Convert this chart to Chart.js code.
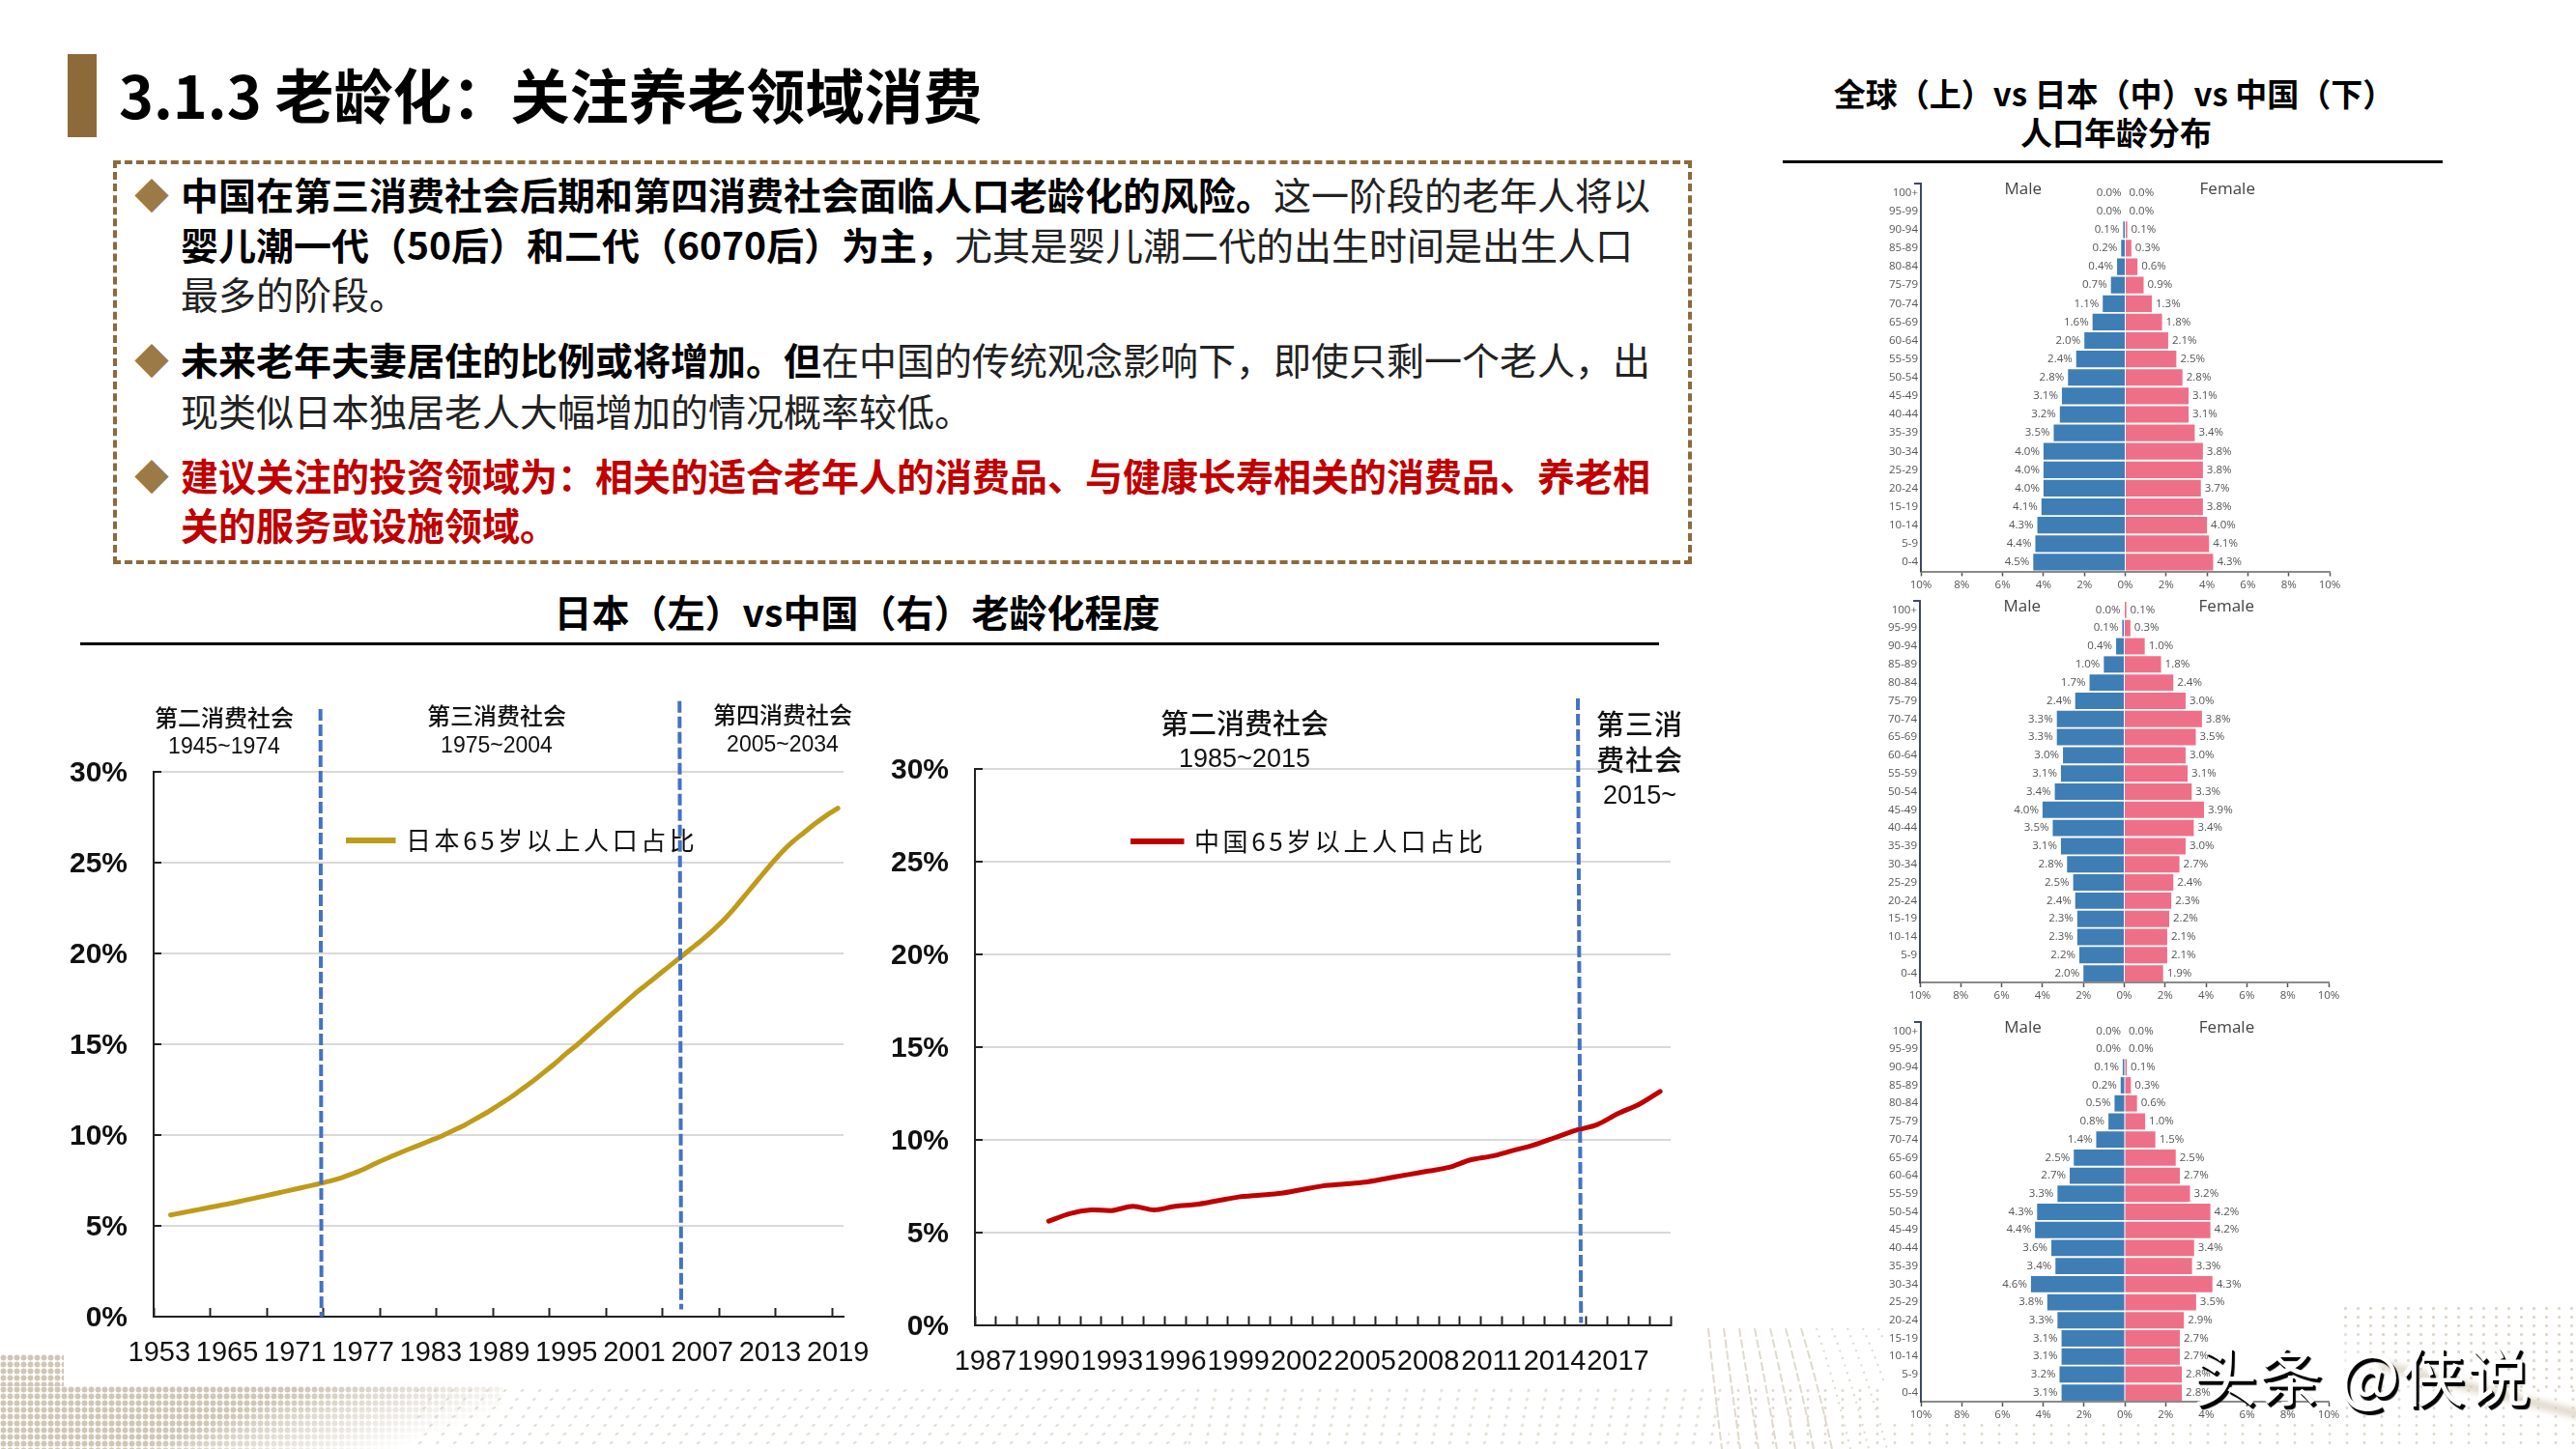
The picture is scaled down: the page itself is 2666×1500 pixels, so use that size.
<!DOCTYPE html>
<html lang="zh-CN">
<head>
<meta charset="utf-8">
<script src="https://cdn.jsdelivr.net/npm/chart.js@4/dist/chart.umd.min.js"></script>
<style>
html,body{margin:0;padding:0;background:#fff;}
#page{position:relative;width:2666px;height:1500px;overflow:hidden;background:#fff;font-family:"Noto Sans CJK SC","Noto Sans",sans-serif;color:#111;}
.abs{position:absolute;white-space:nowrap;}
canvas{position:absolute;}
.ln{position:absolute;left:187px;white-space:nowrap;font-size:39px;line-height:52px;height:52px;color:#222;}
.ln b{font-weight:700;color:#000;}
.red{color:#c00000;font-weight:700;}
.bul{position:absolute;left:139px;font-size:36px;line-height:40px;height:40px;color:#9c7a45;}
.ann{position:absolute;transform:translate(-50%,-50%);white-space:nowrap;color:#111;font-weight:500;}
.ann.num{font-family:"Liberation Sans",Arial,sans-serif;font-weight:400;}
.clip{position:absolute;overflow:hidden;}
.tile{position:absolute;background-image:radial-gradient(circle,#e2dccf 1.3px,transparent 1.8px);background-size:18px 9px;}
#blob{position:absolute;left:0;top:1435px;width:520px;height:65px;background-image:radial-gradient(circle,#cfc6b5 2.7px,transparent 3.3px);background-size:7px 7px;-webkit-mask-image:linear-gradient(160deg,#000 45%,transparent 85%);}
#blob2{position:absolute;left:0;top:1402px;width:66px;height:33px;background-image:radial-gradient(circle,#cfc6b5 2.7px,transparent 3.3px);background-size:7px 7px;}
#dots2{position:absolute;left:2330px;top:1350px;width:336px;height:90px;background-image:radial-gradient(circle,#dfd8cb 1.3px,transparent 1.8px);background-size:13px 9px;-webkit-mask-image:linear-gradient(215deg,#000 55%,transparent 80%);}
#wave{position:absolute;left:2460px;top:1436px;width:230px;height:9px;background:#d8cfc0;filter:blur(3px);transform:rotate(14deg);opacity:.8;}
#pwhite{position:absolute;left:1950px;top:1040px;width:474px;height:433px;background:#fff;}
#wm{position:absolute;left:2270px;top:1376px;font-size:66px;letter-spacing:1.5px;line-height:90px;color:#fff;text-shadow:2px 3px 0 #000,3px 4px 1px #000;white-space:nowrap;}
</style>
</head>
<body>
<div id="page">
  <div class="clip" style="left:430px;top:1435px;width:800px;height:65px;"><div class="tile" style="left:-60px;top:0;width:920px;height:65px;transform:skewX(-32deg);"></div></div>
  <div class="clip" style="left:1230px;top:1435px;width:560px;height:65px;"><div class="tile" style="left:-40px;top:0;width:640px;height:65px;transform:skewX(-10deg);"></div></div>
  <div class="clip" style="left:1790px;top:1435px;width:876px;height:65px;"><div class="tile" style="left:0;top:0;width:876px;height:65px;"></div></div>
  <div id="blob"></div><div id="blob2"></div><div id="dots2"></div><div id="wave"></div>
  <svg id="arcs" class="abs" style="left:1760px;top:1375px;" width="200" height="125"></svg>
  <div id="pwhite"></div>

  <div class="abs" style="left:70px;top:56px;width:30px;height:86px;background:#8c6a3a;"></div>
  <div class="abs" style="left:123px;top:55px;font-size:61px;line-height:84px;font-weight:700;color:#000;">3.1.3 老龄化：关注养老领域消费</div>

  <div class="abs" style="left:117px;top:166px;width:1634px;height:418px;box-sizing:border-box;border:4px dashed #8c6a3a;"></div>
  <div class="bul" style="top:181px;">◆</div>
  <div class="ln" style="top:174px;"><b>中国在第三消费社会后期和第四消费社会面临人口老龄化的风险。</b>这一阶段的老年人将以</div>
  <div class="ln" style="top:226px;"><b>婴儿潮一代（50后）和二代（6070后）为主，</b>尤其是婴儿潮二代的出生时间是出生人口</div>
  <div class="ln" style="top:277px;">最多的阶段。</div>
  <div class="bul" style="top:352px;">◆</div>
  <div class="ln" style="top:345px;"><b>未来老年夫妻居住的比例或将增加。但</b>在中国的传统观念影响下，即使只剩一个老人，出</div>
  <div class="ln" style="top:398px;">现类似日本独居老人大幅增加的情况概率较低。</div>
  <div class="bul" style="top:472px;">◆</div>
  <div class="ln red" style="top:465px;">建议关注的投资领域为：相关的适合老年人的消费品、与健康长寿相关的消费品、养老相</div>
  <div class="ln red" style="top:516px;">关的服务或设施领域。</div>

  <div class="abs" style="left:887px;top:632px;transform:translate(-50%,-50%);font-size:39px;font-weight:700;color:#000;">日本（左）vs中国（右）老龄化程度</div>
  <div class="abs" style="left:83px;top:665px;width:1634px;height:3px;background:#000;"></div>

  <div class="abs" style="left:2188px;top:96px;transform:translate(-50%,-50%);font-size:33px;font-weight:700;color:#000;">全球（上）vs 日本（中）vs 中国（下）</div>
  <div class="abs" style="left:2190px;top:136px;transform:translate(-50%,-50%);font-size:33px;font-weight:700;color:#000;">人口年龄分布</div>
  <div class="abs" style="left:1845px;top:166px;width:683px;height:3px;background:#000;"></div>

  <canvas id="cJapan" style="left:20px;top:680px;"></canvas>
  <canvas id="cChina" style="left:880px;top:680px;"></canvas>
  <canvas id="cGlobal" style="left:1930px;top:170px;"></canvas>
  <canvas id="cJapanP" style="left:1930px;top:602px;"></canvas>
  <canvas id="cChinaP" style="left:1930px;top:1038px;"></canvas>

  <div class="ann" style="left:232px;top:741px;font-size:24px;">第二消费社会</div>
  <div class="ann num" style="left:232px;top:772px;font-size:23px;">1945~1974</div>
  <div class="ann" style="left:514px;top:739px;font-size:24px;">第三消费社会</div>
  <div class="ann num" style="left:514px;top:771px;font-size:23px;">1975~2004</div>
  <div class="ann" style="left:810px;top:738px;font-size:24px;">第四消费社会</div>
  <div class="ann num" style="left:810px;top:770px;font-size:23px;">2005~2034</div>
  <div class="ann" style="left:1288px;top:747px;font-size:29px;">第二消费社会</div>
  <div class="ann num" style="left:1288px;top:785px;font-size:27px;">1985~2015</div>
  <div class="ann" style="left:1697px;top:748px;font-size:29px;letter-spacing:1px;">第三消</div>
  <div class="ann" style="left:1697px;top:785px;font-size:29px;letter-spacing:1px;">费社会</div>
  <div class="ann num" style="left:1697px;top:823px;font-size:27px;">2015~</div>

  <div id="wm">头条 @侠说</div>
</div>
<script>
// ---------- line charts ----------
const japanYears = ["1953",1960,1961,1962,1963,1964,1965,1966,1967,1968,1969,1970,1971,1972,1973,1974,1975,1976,1977,1978,1979,1980,1981,1982,1983,1984,1985,1986,1987,1988,1989,1990,1991,1992,1993,1994,1995,1996,1997,1998,1999,2000,2001,2002,2003,2004,2005,2006,2007,2008,2009,2010,2011,2012,2013,2014,2015,2016,2017,2018,2019];
const japanAged = [null,5.6,5.72,5.84,5.96,6.08,6.2,6.33,6.47,6.6,6.74,6.88,7.02,7.16,7.3,7.45,7.62,7.85,8.1,8.4,8.68,8.95,9.2,9.45,9.7,9.95,10.25,10.55,10.9,11.25,11.65,12.05,12.5,12.95,13.45,13.95,14.5,15.0,15.55,16.1,16.65,17.2,17.75,18.25,18.75,19.25,19.75,20.25,20.75,21.3,21.9,22.6,23.35,24.1,24.85,25.55,26.15,26.65,27.15,27.6,28.0];
const chinaYears = [1987,1988,1989,1990,1991,1992,1993,1994,1995,1996,1997,1998,1999,2000,2001,2002,2003,2004,2005,2006,2007,2008,2009,2010,2011,2012,2013,2014,2015,2016,2017,2018,2019];
const chinaAged = [null,null,null,5.6,6.0,6.2,6.17,6.4,6.2,6.4,6.5,6.7,6.9,7.0,7.1,7.3,7.5,7.6,7.7,7.9,8.1,8.3,8.5,8.9,9.1,9.4,9.7,10.1,10.5,10.8,11.4,11.9,12.6];
// dashed era dividers: position on the category axis at the top and bottom ends, and y-value ends
const japanDividers = [[14.25,14.34,33.46,0],[46.0,46.15,33.9,0.4]];
const chinaDividers = [[28.1,28.25,33.8,0.1]];
const pctTicks = [0,5,10,15,20,25,30];

// ---------- population pyramids ----------
const ageGroups = ["100+","95-99","90-94","85-89","80-84","75-79","70-74","65-69","60-64","55-59","50-54","45-49","40-44","35-39","30-34","25-29","20-24","15-19","10-14","5-9","0-4"];
const globalMale   = [0.0,0.0,0.1,0.2,0.4,0.7,1.1,1.6,2.0,2.4,2.8,3.1,3.2,3.5,4.0,4.0,4.0,4.1,4.3,4.4,4.5];
const globalFemale = [0.0,0.0,0.1,0.3,0.6,0.9,1.3,1.8,2.1,2.5,2.8,3.1,3.1,3.4,3.8,3.8,3.7,3.8,4.0,4.1,4.3];
const japanMale    = [0.0,0.1,0.4,1.0,1.7,2.4,3.3,3.3,3.0,3.1,3.4,4.0,3.5,3.1,2.8,2.5,2.4,2.3,2.3,2.2,2.0];
const japanFemale  = [0.1,0.3,1.0,1.8,2.4,3.0,3.8,3.5,3.0,3.1,3.3,3.9,3.4,3.0,2.7,2.4,2.3,2.2,2.1,2.1,1.9];
const chinaMale    = [0.0,0.0,0.1,0.2,0.5,0.8,1.4,2.5,2.7,3.3,4.3,4.4,3.6,3.4,4.6,3.8,3.3,3.1,3.1,3.2,3.1];
const chinaFemale  = [0.0,0.0,0.1,0.3,0.6,1.0,1.5,2.5,2.7,3.2,4.2,4.2,3.4,3.3,4.3,3.5,2.9,2.7,2.7,2.8,2.8];

const SANS = '"Liberation Sans", Arial, sans-serif';
const CJK = '"Noto Sans CJK SC", sans-serif';
const PYR = '"Open Sans", "Noto Sans", sans-serif';
Chart.defaults.animation = false;
Chart.defaults.responsive = false;
Chart.defaults.devicePixelRatio = 1;

// decorative background arcs (page texture, not data)
(function(){
  const svg=document.getElementById('arcs');let s='';
  [8,24,40,56,72,88,104,120,136,152,168,184].forEach((x,i)=>{
    s+='<path d="M'+x+' 0 Q'+(x+6+i*2)+' 60 '+(x+14+i*3)+' 125" fill="none" stroke="#e0dacd" stroke-width="2" stroke-dasharray="'+(i<7?'9 3':'2 6')+'"/>';
  });
  svg.innerHTML=s;
})();

function size(id,w,h){const c=document.getElementById(id);c.width=w;c.height=h;c.style.width=w+'px';c.style.height=h+'px';return c;}

function dividerPlugin(dividers){
  return {id:'dividers',afterDatasetsDraw(chart){
    const {ctx,scales:{x,y}}=chart;
    ctx.save();ctx.strokeStyle='#4472c4';ctx.lineWidth=4;ctx.setLineDash([12,4]);
    dividers.forEach(d=>{ctx.beginPath();ctx.moveTo(x.getPixelForValue(d[0]),y.getPixelForValue(d[2]));ctx.lineTo(x.getPixelForValue(d[1]),y.getPixelForValue(d[3]));ctx.stroke();});
    ctx.restore();
  }};
}
function legendMover(left,top,spacing){
  return {id:'legendMover',afterLayout(chart){
    const l=chart.legend;l.left=left;l.right=left+620;l.top=top;l.bottom=top+60;
    if(!l._wrapped){const d=l.draw;l.draw=function(a){const c=this.ctx;c.save();c.letterSpacing=spacing;d.call(this,a);c.restore();};l._wrapped=true;}
  }};
}
function lineChart(id,w,h,labels,values,name,color,pad,boxW,tickEvery,labelEvery,lastTick,plugins){
  return new Chart(size(id,w,h),{
    type:'line',
    data:{labels,datasets:[{label:name,data:values,borderColor:color,backgroundColor:color,borderWidth:5,pointRadius:0,tension:0.3,borderCapStyle:'round',spanGaps:false}]},
    options:{
      layout:{padding:pad},
      plugins:{tooltip:{enabled:false},
        legend:{display:true,position:'chartArea',align:'start',labels:{boxWidth:boxW,boxHeight:1,padding:0,color:'#111',font:{family:CJK,size:26}}}},
      scales:{
        x:{type:'category',offset:true,afterFit(s){s.height=60;},
          border:{color:'#222',width:2},
          grid:{offset:true,drawOnChartArea:false,tickLength:-9,tickWidth:2,tickColor:c=>(c.index===undefined?lastTick:c.index%tickEvery===0)?'#222':'rgba(0,0,0,0)'},
          ticks:{autoSkip:false,maxRotation:0,minRotation:0,padding:30,color:'#111',font:{family:SANS,size:29},
            callback(v,i){return i%labelEvery===0?this.getLabelForValue(v):'';}}},
        y:{min:0,max:30,afterFit(s){s.width=100;},
          afterBuildTicks(s){s.ticks=pctTicks.map(v=>({value:v}));},
          border:{color:'#222',width:2},
          grid:{color:'#d9d9d9',lineWidth:2,tickLength:-8,tickColor:'#222',tickWidth:2},
          ticks:{padding:35,labelOffset:2,color:'#111',font:{family:SANS,size:30,weight:'bold'},callback:v=>v+'%'}}
      }
    },
    plugins
  });
}
lineChart('cJapan',980,760,japanYears,japanAged,'日本65岁以上人口占比','#bf9b1a',{left:39,right:127,top:119,bottom:17},49,5,6,false,
  [dividerPlugin(japanDividers),legendMover(338,177,'3.6px')]);
lineChart('cChina',980,780,chinaYears,chinaAged,'中国65岁以上人口占比','#c00000',{left:29,right:131,top:116,bottom:28.5},53,1,3,true,
  [dividerPlugin(chinaDividers),legendMover(290,178,'3.6px')]);

// ---------- pyramids ----------
const pyramidLabels = {id:'pyramidLabels',afterDatasetsDraw(chart){
  const {ctx,scales:{x,y}}=chart;
  ctx.save();
  ctx.font='11.5px '+PYR;ctx.fillStyle='#555';ctx.textBaseline='middle';
  chart.data.datasets.forEach((ds,k)=>{
    const meta=chart.getDatasetMeta(k);
    ctx.textAlign=k===0?'right':'left';
    meta.data.forEach((el,i)=>{
      ctx.fillText(Math.abs(ds.data[i]).toFixed(1)+'%',el.x+(k===0?-4:4),el.y);
    });
  });
  ctx.font='17px '+PYR;ctx.fillStyle='#444';ctx.textAlign='center';
  const ty=y.top+6;
  ctx.fillText(chart.data.datasets[0].label,x.getPixelForValue(-5),ty);
  ctx.fillText(chart.data.datasets[1].label,x.getPixelForValue(5),ty);
  ctx.strokeStyle='#3e4a5f';ctx.lineWidth=2;ctx.beginPath();ctx.moveTo(x.left-7,y.top);ctx.lineTo(x.left,y.top);ctx.stroke();
  ctx.restore();
}};
function pyramid(id,h,male,female,pad){
  return new Chart(size(id,520,h),{
    type:'bar',
    data:{labels:ageGroups,datasets:[
      {label:'Male',data:male.map(v=>-v),backgroundColor:'#3f7db5',barPercentage:0.9,categoryPercentage:1},
      {label:'Female',data:female,backgroundColor:'#ee7088',barPercentage:0.9,categoryPercentage:1}]},
    options:{
      indexAxis:'y',
      layout:{padding:pad},
      plugins:{legend:{display:false},tooltip:{enabled:false}},
      scales:{
        x:{stacked:true,min:-10,max:10,afterFit(s){s.height=22;},
          border:{color:'#8a8a8a',width:2},
          grid:{drawOnChartArea:false,tickLength:5,tickColor:'#555',tickWidth:1.5},
          ticks:{stepSize:2,padding:2,autoSkip:false,maxRotation:0,color:'#555',font:{family:PYR,size:11.5},callback:v=>Math.abs(v)+'%'}},
        y:{stacked:true,afterFit(s){s.width=50;},
          border:{color:'#3e4a5f',width:2},
          grid:{drawOnChartArea:false,drawTicks:false},
          ticks:{autoSkip:false,padding:3,color:'#555',font:{family:PYR,size:11.5}}}
      }
    },
    plugins:[pyramidLabels]
  });
}
pyramid('cGlobal',450,globalMale,globalFemale,{left:8,right:39,top:20,bottom:6.5});
pyramid('cJapanP',436,japanMale,japanFemale,{left:7,right:40,top:20,bottom:-1});
pyramid('cChinaP',436,chinaMale,chinaFemale,{left:8,right:40,top:20,bottom:1});
</script>
</body>
</html>
